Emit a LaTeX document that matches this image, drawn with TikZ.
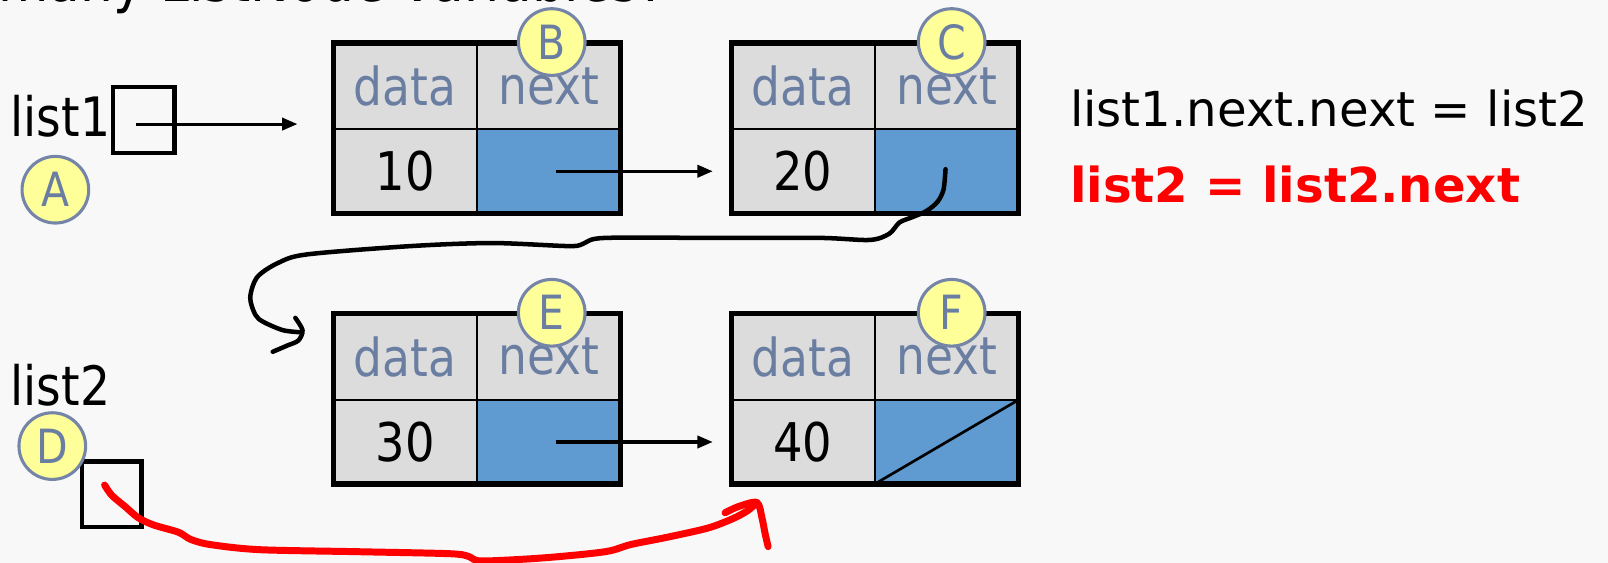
\documentclass[tikz,border=0pt]{standalone}
\usepackage{fontspec}
\setmainfont{DejaVu Sans}[FakeStretch=0.87]
\newfontfamily\stmtfont{DejaVu Sans}
\usetikzlibrary{arrows.meta,calc}
\definecolor{bgcol}{HTML}{F8F8F8}
\definecolor{cellgray}{HTML}{DCDCDC}
\definecolor{cellblue}{HTML}{5F9BD0}
\definecolor{slate}{HTML}{6A7EA2}
\definecolor{tagfill}{HTML}{FFFF99}
\definecolor{tagline}{HTML}{7485A8}
\definecolor{inkred}{HTML}{FF0000}

% one list node: name, left x, top y, stored value
\newcommand{\record}[4]{%
  \node[hdr, anchor=north west] (#1-d) at (#2,#3) {data};
  \node[hdr, anchor=north west] (#1-n) at (#1-d.north east) {next};
  \node[valcell, anchor=north west] (#1-v) at (#1-d.south west) {#4};
  \node[ptrcell, anchor=north west] (#1-p) at (#1-d.south east) {};
  \draw[outerframe] (#1-d.north west) rectangle (#1-p.south east);
}

\begin{document}
\begin{tikzpicture}[x=0.5pt,y=-0.5pt,
  hdr/.style={draw=black, line width=1pt, fill=cellgray, minimum width=70pt,
    minimum height=42pt, inner sep=0pt, outer sep=0pt, text=slate,
    font=\fontsize{25.5}{25.5}\selectfont},
  valcell/.style={hdr, text=black, minimum height=41pt, font=\fontsize{26}{26}\selectfont},
  ptrcell/.style={hdr, fill=cellblue, minimum height=41pt},
  outerframe/.style={draw=black, line width=2.5pt},
  tag/.style={circle, draw=tagline, line width=1.5pt, fill=tagfill,
    minimum size=32.5pt, inner sep=0pt, text=slate, font=\fontsize{23}{23}\selectfont},
  varbox/.style={draw=black, line width=2.2pt, minimum width=30pt,
    minimum height=32pt, inner sep=0pt},
  varlabel/.style={anchor=base west, inner sep=0pt, font=\fontsize{26.5}{26.5}\selectfont},
  ptr/.style={line width=1.5pt, -{Triangle[length=7.5pt,width=6pt]}},
  ink/.style={line width=2.2pt, line cap=round, line join=round},
  redink/.style={ink, draw=inkred, line width=3.4pt},
  code/.style={anchor=base west, inner sep=0pt, font=\stmtfont\fontsize{23.5}{23.5}\selectfont},
]
\fill[bgcol] (0,0) rectangle (1568,549);
\useasboundingbox (0,0) rectangle (1568,549);

% heading line, mostly above the frame
\node[anchor=base west, inner sep=0pt, font=\fontsize{29}{29}\selectfont] (title) at (-2,1) {many ListNode variables?};

% the four list nodes
\record{b}{325}{42}{10}
\record{c}{713}{42}{20}
\record{e}{325}{306}{30}
\record{f}{713}{306}{40}

% null pointer in the last node
\draw[line width=1.3pt] (f-p.south west) -- (f-p.north east);

% variables
\node[varlabel] (l1lab) at (10,133) {list1};
\node[varbox] (l1box) at (140,117) {};
\node[varlabel] (l2lab) at (10,395) {list2};
\node[varbox, minimum width=29pt] (l2box) at (109,482) {};

% pointers
\draw[ptr] ($(l1box.center)+(-7,4)$) -- ($(l1box.center -| b-d.west)+(-35,4)$);
\draw[ptr] ($(b-p.center)+(7,0)$) -- ($(c-v.west)+(-18,0)$);
\draw[ptr] ($(e-p.center)+(7,0)$) -- ($(f-v.west)+(-18,0)$);

% hand-drawn link from the second node to the third
\coordinate (c-tail) at ($(c-p.center)+(-1,-2)$);
\coordinate (e-hook) at ($(e-d.west)+(-32,-24)$);
\draw[ink] plot[smooth, tension=0.5] coordinates {(c-tail) (920,185) (914,197) (903,206) (889,212) (877,217) (867,228) (848,234) (800,232) (700,232) (590,232) (570,237) (556,240) (480,237) (400,240) (300,248) (272,256) (251,270) (244,290) (249,307) (257,314) (276,322) (e-hook)};
\draw[ink] plot[smooth, tension=0.5] coordinates {(288,310) (295,322) (291,332) (280,337) (266,343)};

% hand-drawn red move of list2
\coordinate (l2-tail) at ($(l2box.center)+(-7,-9)$);
\coordinate (f-tip) at ($(f-v.south west)+(25,18)$);
\draw[redink] plot[smooth, tension=0.5] coordinates {(l2-tail) (109,483) (122,494) (135,505) (150,512) (174,519) (186,526) (205,531) (253,536) (350,538) (440,540) (458,543) (470,547) (530,544) (590,538) (615,531) (650,524) (690,515) (714,506) (729,498) (f-tip)};
\draw[redink] plot[smooth, tension=0.5] coordinates {(707,500) (720,494) (f-tip) (743,505) (746,520) (749,533)};

% labels
\node[tag] (tA) at (54,185) {A};
\node[tag] (tB) at ($(b-n.north)+(3,-1)$) {B};
\node[tag] (tC) at ($(c-n.north)+(5,-1)$) {C};
\node[tag] (tD) at (51,435) {D};
\node[tag] (tE) at ($(e-n.north)+(3,-1)$) {E};
\node[tag] (tF) at ($(f-n.north)+(5,-1)$) {F};

% statements
\node[code] (s1) at (1043,123) {list1.next.next = list2};
\node[code, text=inkred, font=\stmtfont\fontsize{23.5}{23.5}\selectfont\bfseries] (s2) at (1043,197) {list2 = list2.next};
\end{tikzpicture}
\end{document}
